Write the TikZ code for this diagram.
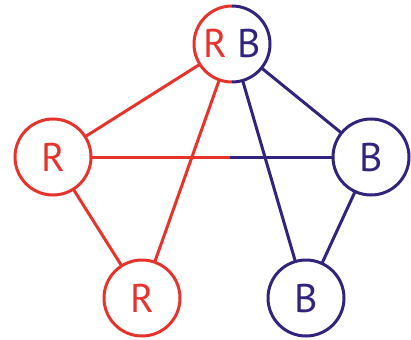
\documentclass[tikz,border=0pt]{standalone}
\usepackage{fontspec}
\setmainfont{PT Sans}
\definecolor{rcol}{RGB}{232,51,45}
\definecolor{bcol}{RGB}{50,36,124}
\begin{document}
\begin{tikzpicture}[x=1pt,y=-1pt,
  vert/.style={circle,minimum size=76pt,inner sep=0pt,outer sep=0pt,line width=3pt,font=\fontsize{40}{40}\selectfont},
  rv/.style={vert,draw=rcol,text=rcol},
  bv/.style={vert,draw=bcol,text=bcol},
  redge/.style={draw=rcol,line width=3pt},
  bedge/.style={draw=bcol,line width=3pt}]
\useasboundingbox (0,0) rectangle (411,339);
\node[vert] (T) at (232,44) {\textcolor{rcol}{R}\hspace{0.25em}\textcolor{bcol}{B}};
\node[rv] (L) at (53,157) {R};
\node[bv] (Rt) at (371,157) {B};
\node[rv] (BR) at (142,298) {R};
\node[bv] (BB) at (306,298) {B};
\coordinate (mid) at (230,157);
\draw[rcol,line width=3pt] (T.center) ++(0,38) arc[start angle=90,end angle=270,radius=38];
\draw[bcol,line width=3pt] (T.center) ++(0,-38) arc[start angle=270,end angle=450,radius=38];
\draw[redge] (T) -- (L);
\draw[redge] (T) -- (BR);
\draw[bedge] (T) -- (Rt);
\draw[bedge] (T) -- (BB);
\draw[redge] (L) -- (BR);
\draw[bedge] (Rt) -- (BB);
\draw[redge] (L) -- (mid);
\draw[bedge] (mid) -- (Rt);
\end{tikzpicture}
\end{document}
